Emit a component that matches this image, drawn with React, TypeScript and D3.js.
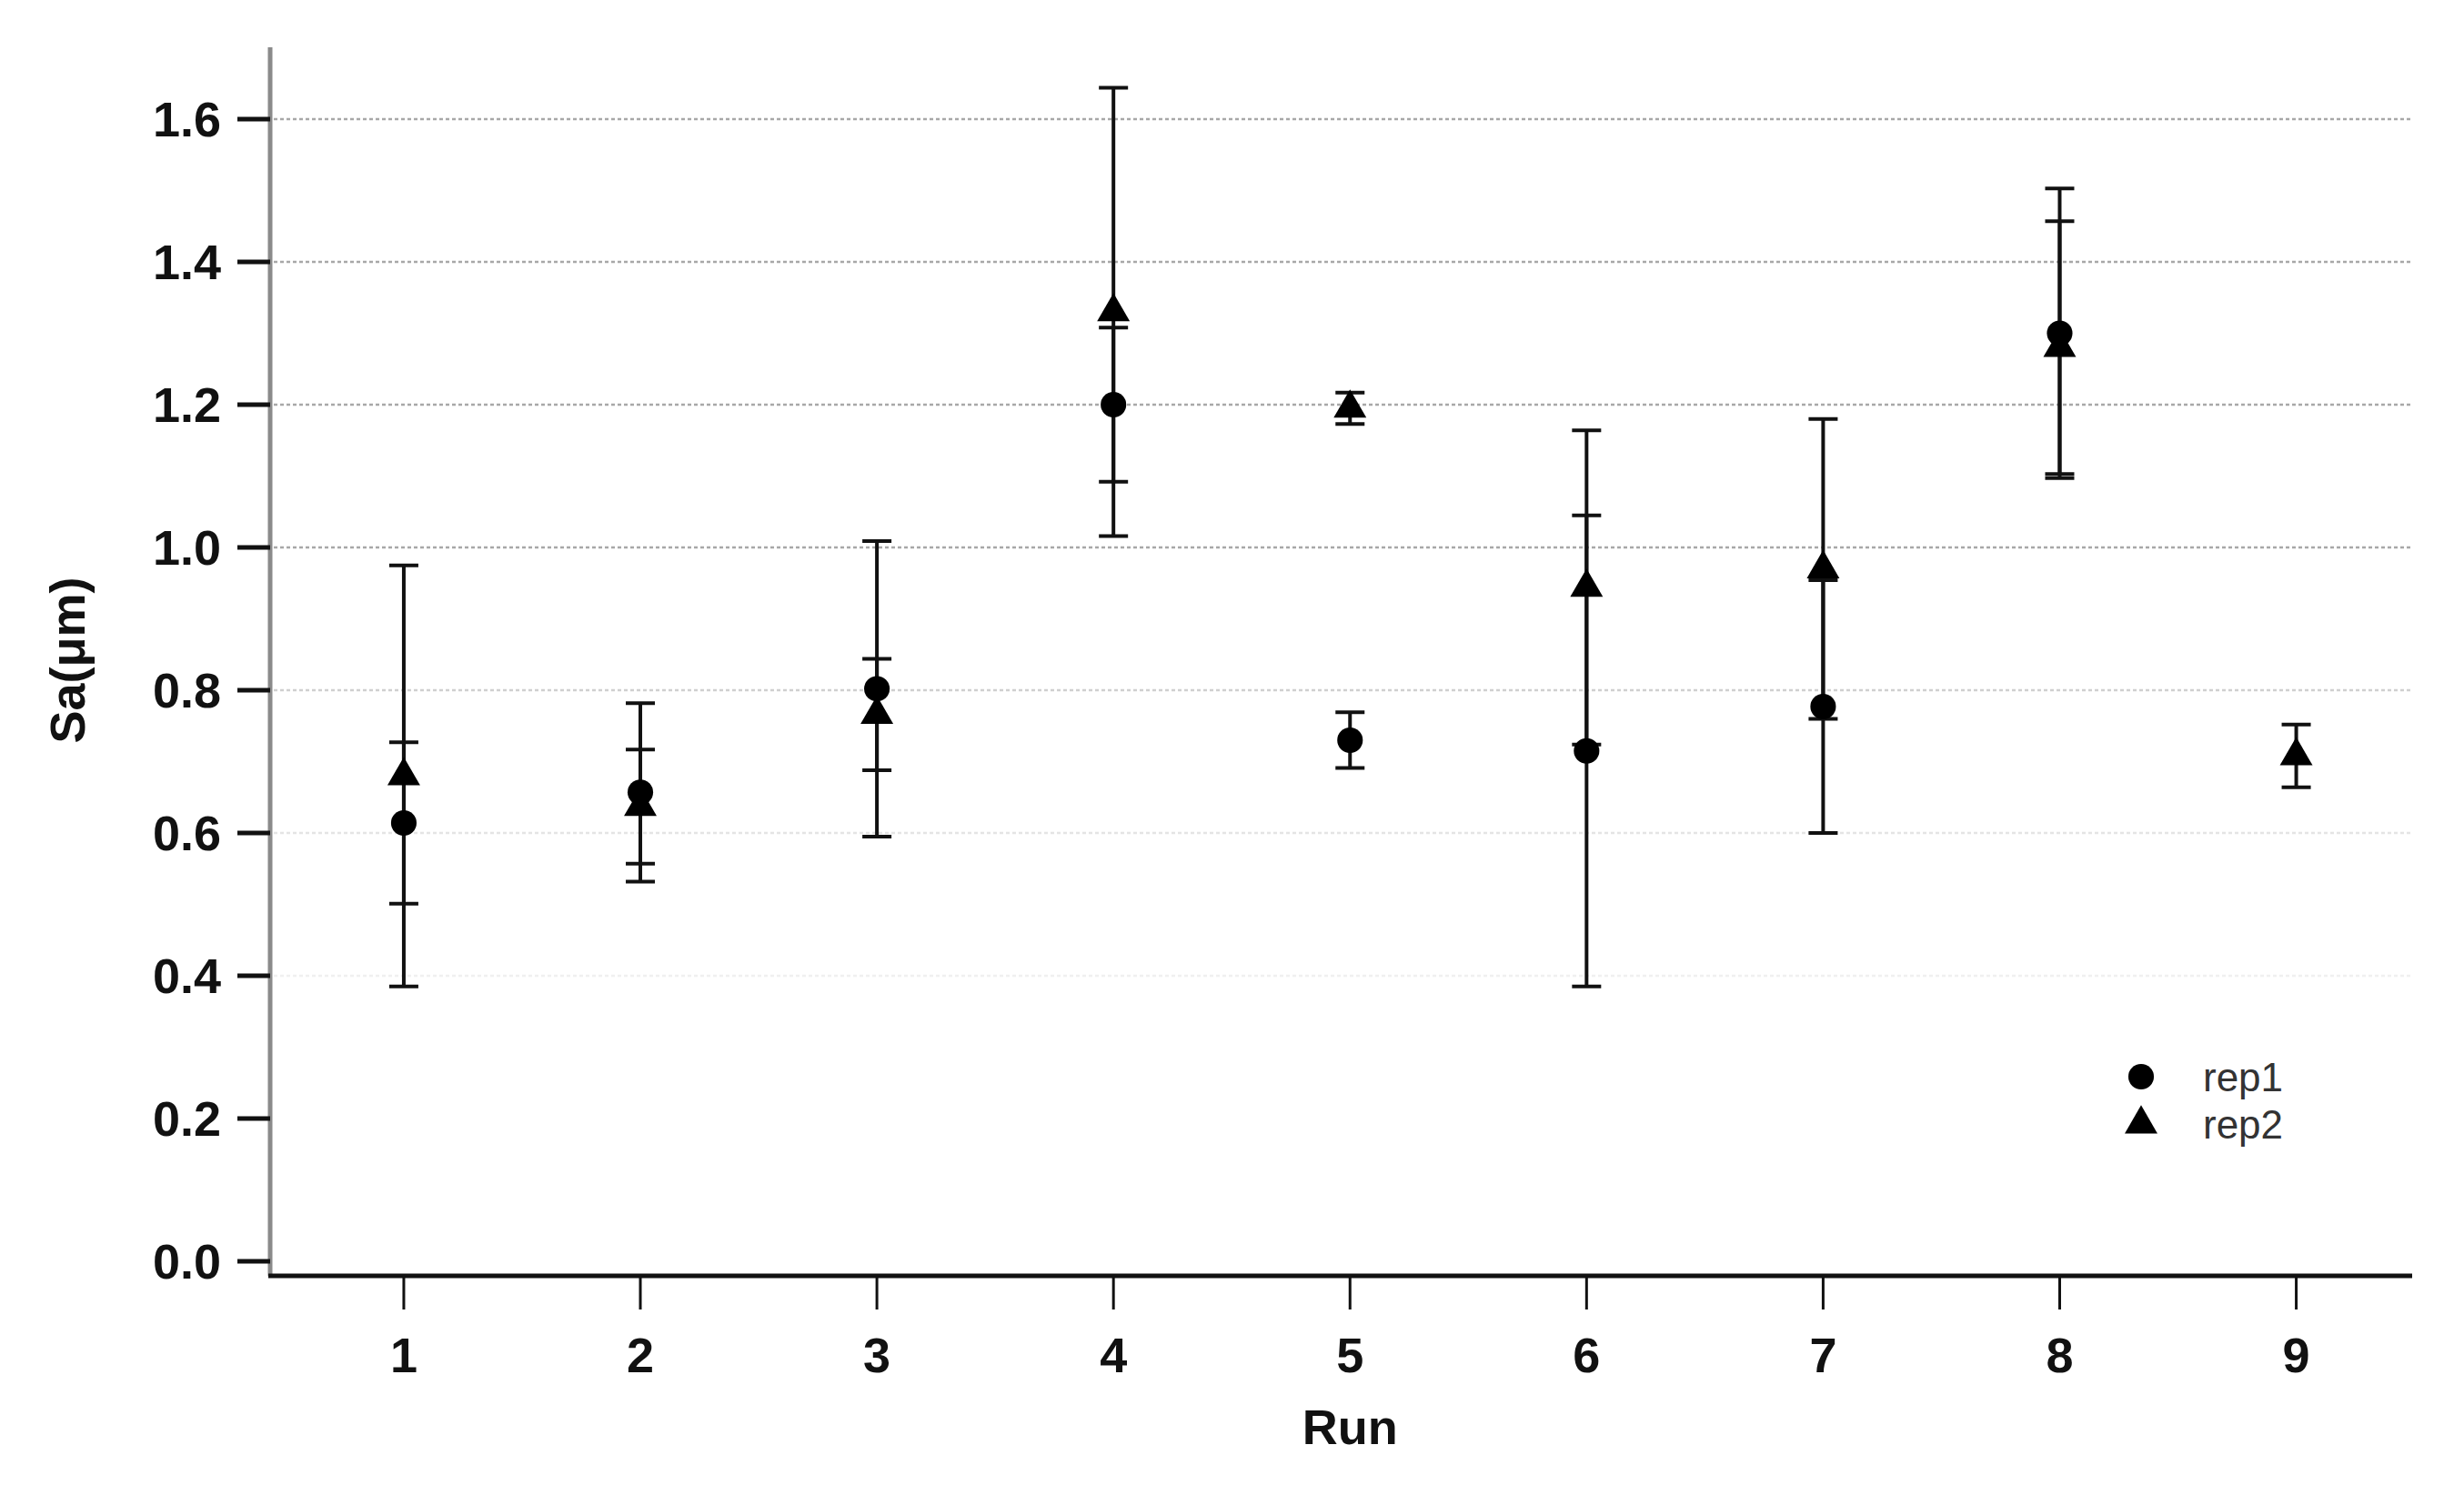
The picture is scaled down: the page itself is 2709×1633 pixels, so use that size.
import React from "react";
import * as d3 from "d3";

const runs = [1, 2, 3, 4, 5, 6, 7, 8, 9];
const rep1Mean = [0.614, 0.657, 0.802, 1.2, 0.73, 0.715, 0.777, 1.3, null];
const rep1Err = [0.113, 0.125, 0.207, 0.108, 0.039, 0.33, 0.177, 0.203, null];
const rep2Mean = [0.68, 0.637, 0.766, 1.33, 1.195, 0.944, 0.97, 1.28, 0.708];
const rep2Err = [0.295, 0.08, 0.078, 0.314, 0.022, 0.22, 0.21, 0.177, 0.044];
const yTicks = [0, 0.2, 0.4, 0.6, 0.8, 1.0, 1.2, 1.4, 1.6];
const gridValues = [0.4, 0.6, 0.8, 1.0, 1.2, 1.4, 1.6];
const seriesNames = ["rep1", "rep2"];

const W = 2709;
const H = 1633;
const FONT = "'Liberation Sans', Arial, Helvetica, sans-serif";

export default function App() {
  const x = d3.scaleLinear().domain([0.435, 9.49]).range([297, 2652]);
  const y = d3.scaleLinear().domain([0, 1.6]).range([1387, 131]);
  const fmt = d3.format(".1f");
  const axisY = 1403;
  const axisX = 297;
  const yTop = 52;

  const gridColor = (v: number) =>
    v >= 1.0 ? "#a8a8a8" : v >= 0.8 ? "#cfcfcf" : v >= 0.6 ? "#e4e4e4" : "#f0f0f0";

  const series = [
    { name: seriesNames[0], mean: rep1Mean, err: rep1Err, shape: "circle" },
    { name: seriesNames[1], mean: rep2Mean, err: rep2Err, shape: "triangle" },
  ];

  const tri = d3.symbol().type(d3.symbolTriangle).size(560)();
  const circ = d3.symbol().type(d3.symbolCircle).size(620)();
  const capHalf = 16;

  return (
    <svg
      width={W}
      height={H}
      viewBox={`0 0 ${W} ${H}`}
      style={{ position: "absolute", left: 0, top: 0, display: "block", background: "#fff" }}
      fontFamily={FONT}
    >
      <rect x={0} y={0} width={W} height={H} fill="#fff" />
      {/* gridlines */}
      {gridValues.map((v) => (
        <line
          key={"g" + v}
          x1={axisX + 4}
          x2={2652}
          y1={y(v)}
          y2={y(v)}
          stroke={gridColor(v)}
          strokeWidth={2.5}
          strokeDasharray="4,3"
        />
      ))}
      {/* y axis */}
      <line x1={axisX} x2={axisX} y1={yTop} y2={axisY} stroke="#8a8a8a" strokeWidth={5} />
      {yTicks.map((v) => (
        <g key={"yt" + v}>
          <line x1={axisX - 36} x2={axisX} y1={y(v)} y2={y(v)} stroke="#111" strokeWidth={5} />
          <text
            x={243}
            y={y(v)}
            dy="0.36em"
            textAnchor="end"
            fontSize={54}
            fontWeight="bold"
            fill="#111"
          >
            {fmt(v)}
          </text>
        </g>
      ))}
      {/* x axis */}
      <line x1={axisX - 2} x2={2652} y1={axisY} y2={axisY} stroke="#111" strokeWidth={5} />
      {runs.map((r) => (
        <g key={"xt" + r}>
          <line x1={x(r)} x2={x(r)} y1={axisY} y2={axisY + 37} stroke="#111" strokeWidth={3} />
          <text
            x={x(r)}
            y={1509}
            textAnchor="middle"
            fontSize={54}
            fontWeight="bold"
            fill="#111"
          >
            {r}
          </text>
        </g>
      ))}
      <text x={x(5)} y={1588} textAnchor="middle" fontSize={54} fontWeight="bold" fill="#111">
        Run
      </text>
      <text
        transform={`translate(93,726) rotate(-90)`}
        textAnchor="middle"
        fontSize={54}
        fontWeight="bold"
        fill="#111"
      >
        Sa(μm)
      </text>
      {/* error bars */}
      {series.map((s) =>
        runs.map((r, i) => {
          const m = s.mean[i];
          const e = s.err[i];
          if (m == null || e == null) return null;
          const cx = x(r);
          return (
            <g key={s.name + "e" + r} stroke="#111" strokeWidth={4}>
              <line x1={cx} x2={cx} y1={y(m + e)} y2={y(m - e)} />
              <line x1={cx - capHalf} x2={cx + capHalf} y1={y(m + e)} y2={y(m + e)} />
              <line x1={cx - capHalf} x2={cx + capHalf} y1={y(m - e)} y2={y(m - e)} />
            </g>
          );
        })
      )}
      {/* markers */}
      {series.map((s) =>
        runs.map((r, i) => {
          const m = s.mean[i];
          if (m == null) return null;
          return (
            <path
              key={s.name + "m" + r}
              d={s.shape === "circle" ? circ : tri}
              transform={`translate(${x(r)},${y(m)})`}
              fill="#000"
            />
          );
        })
      )}
      {/* legend */}
      {series.map((s, i) => (
        <g key={"lg" + s.name} transform={`translate(2354,${1184 + i * 52})`}>
          <path d={s.shape === "circle" ? circ : tri} fill="#000" />
          <text x={68} y={0} dy="0.36em" fontSize={44} fill="#333">
            {s.name}
          </text>
        </g>
      ))}
    </svg>
  );
}
